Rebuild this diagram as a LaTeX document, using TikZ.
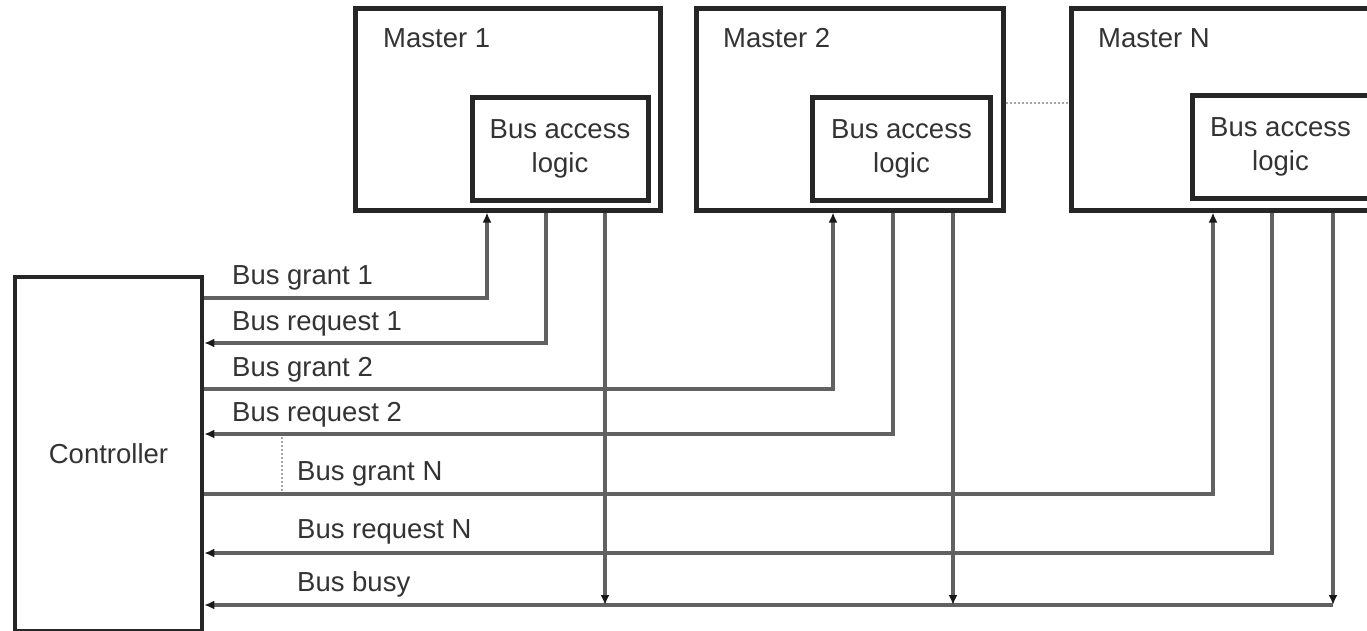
\documentclass[tikz,border=0pt]{standalone}
\usepackage{fontspec}
\setmainfont{Liberation Sans}
\usepackage{tikz}
\usetikzlibrary{arrows.meta,positioning}
\usepackage{xcolor}
\definecolor{inkgray}{gray}{0.2}
\definecolor{linegray}{gray}{0.38}
\definecolor{dotgray}{gray}{0.65}

\tikzset{
	boxfont/.style={font=\fontsize{27.5}{34}\selectfont, text=inkgray},
	sig/.style={draw=linegray, line width=3.2pt},
	tip/.style={-{Latex[length=10pt,width=9pt,color=black!90]}},
	dotline/.style={draw=dotgray, line width=2pt, dotted}
}

\begin{document}
\begin{tikzpicture}[x=1pt,y=-1pt]
	\clip (0,0) rectangle (1367,630);
	\begin{scope}[every node/.style={rectangle,draw=black!85,line width=5pt,inner sep=0pt,boxfont}]
		\node[line width=4.5pt,minimum width=187pt,minimum height=354pt] (ctrl) at (108.5,454) {Controller};
		
		\node[minimum width=305pt,minimum height=202pt] (m1) at (507.5,109) {};
		\node[right =31pt of m1,minimum width=307pt,minimum height=202pt] (m2) {};
		\node[right =63pt of m2,minimum width=312pt,minimum height=202pt] (mN) {};
		
		\node[above left =10pt and 12pt of m1.south east,align=center,minimum width=176pt,minimum height=103pt] (l1) {Bus access\\logic};
		\node[above left =10pt and 12.5pt of m2.south east,align=center,minimum width=178pt,minimum height=103pt] (l2) {Bus access\\logic};
		\node[above left =12pt and 14pt of mN.south east,align=center,minimum width=177pt,minimum height=103pt] (lN) {Bus access\\logic};
	\end{scope}
	\begin{scope}[every node/.style={inner sep=0pt,anchor=base west,boxfont}]
		\node (t1) at (383,47) {Master 1};
		\node (t2) at (723,47) {Master 2};
		\node (tN) at (1098,47) {Master N};
		
		\node (lg1) at (232,284) {Bus grant 1};
		\node (lr1) at (232,330) {Bus request 1};
		\node (lg2) at (232,376) {Bus grant 2};
		\node (lr2) at (232,421) {Bus request 2};
		\node (lgN) at (297,480) {Bus grant N};
		\node (lrN) at (297,538) {Bus request N};
		\node (lb) at (297,591) {Bus busy};
	\end{scope}
	
	\draw[dotline] (m2.east |- 0,103) -- (mN.west |- 0,103);
	\draw[dotline] (282,437) -- (282,492);
	
	\draw[sig,tip] (ctrl.east |- 0,298) -| (m1.south -| 487,0);
	\draw[sig,tip] (m1.south -| 546,0) |- (ctrl.east |- 0,343);
	\draw[sig,tip] (ctrl.east |- 0,389) -| (m2.south -| 833,0);
	\draw[sig,tip] (m2.south -| 893,0) |- (ctrl.east |- 0,434);
	\draw[sig,tip] (ctrl.east |- 0,494) -| (mN.south -| 1213,0);
	\draw[sig,tip] (mN.south -| 1272,0) |- (ctrl.east |- 0,553);
	
	\draw[sig,tip] (mN.south -| 1333,0) -- (1333,605) coordinate (busy);
	\draw[sig,tip] (busy) -- (ctrl.east |- busy);
	\draw[sig,tip] (m1.south -| 605,0) -- (busy -| 605,0);
	\draw[sig,tip] (m2.south -| 953,0) -- (busy -| 953,0);
\end{tikzpicture}
\end{document}
